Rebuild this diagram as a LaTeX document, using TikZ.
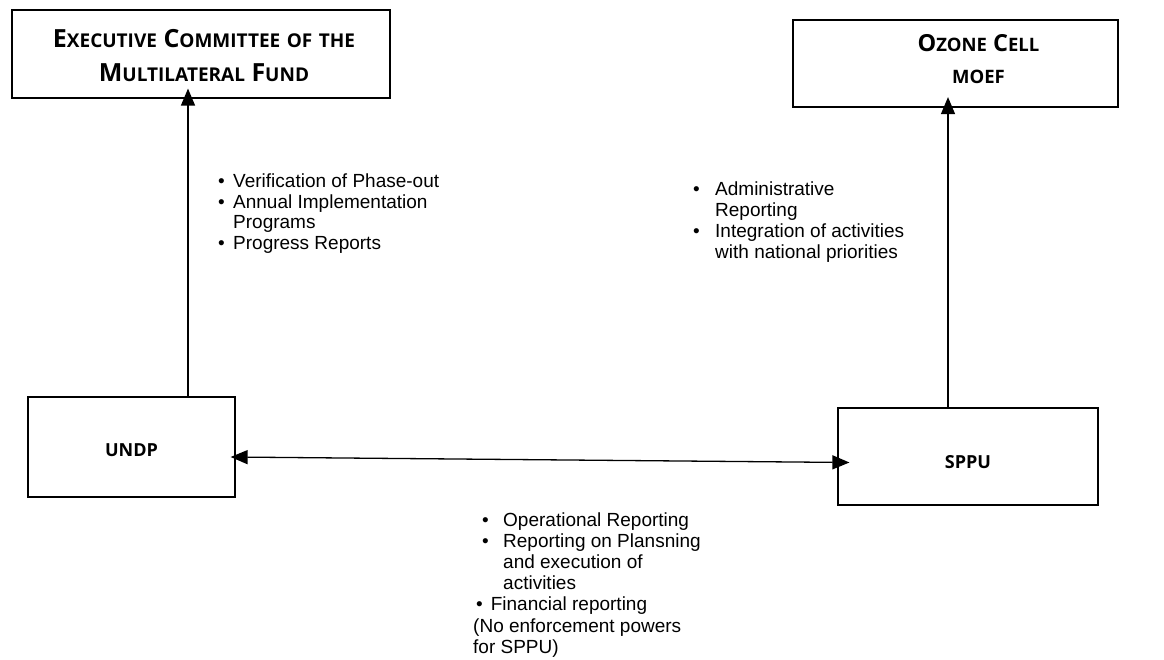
\documentclass[tikz,border=0pt]{standalone}
\usepackage{fontspec}
\setmainfont{Liberation Sans}
\newfontfamily\headfont{Open Sans}[BoldFont={* Bold}]
\usetikzlibrary{arrows.meta}
\newcommand\scA[2]{{\fontsize{25}{20}\selectfont #1}{\fontsize{19}{20}\selectfont #2}}
\newcommand\scB[2]{{\fontsize{23.5}{20}\selectfont #1}{\fontsize{18.5}{20}\selectfont #2}}
\tikzset{
  boxnode/.style={draw, line width=1.2pt, inner sep=0pt, align=center,
    font=\headfont\bfseries},
  arr/.style={line width=1.3pt, -{Triangle[length=17pt,width=14pt]}},
  biarr/.style={line width=1.3pt, {Triangle[length=17pt,width=14pt]}-{Triangle[length=17pt,width=14pt]}},
  listnode/.style={inner sep=0pt, anchor=base west,
    font=\fontsize{19}{20.5}\selectfont}
}
\begin{document}
\begin{tikzpicture}[x=1pt,y=1pt]
\useasboundingbox[fill=white] (0,0) rectangle (1164,-660);

\node[boxnode, minimum width=378, minimum height=88,
      font=\headfont\bfseries\fontsize{25}{20}\selectfont] (exec) at (201,-54)
  {\hspace*{6pt}\raisebox{-4.4pt}[\height][\depth]{\begin{tabular}{@{}c@{}}\scA{E}{XECUTIVE} \scA{C}{OMMITTEE} \scA{}{OF} \scA{}{THE}\\[11pt]
   \scA{M}{ULTILATERAL} \scA{F}{UND}\end{tabular}}};

\node[boxnode, minimum width=325, minimum height=87,
      font=\headfont\bfseries\fontsize{23.5}{20}\selectfont] (ozone) at (955.5,-63.5)
  {\hspace*{46pt}\raisebox{1.4pt}[\height][\depth]{\begin{tabular}{@{}c@{}}\scB{O}{ZONE} \scB{C}{ELL}\\[11.5pt]
   \scB{}{MOEF}\end{tabular}}};

\node[boxnode, minimum width=207, minimum height=100, font=\headfont\bfseries\fontsize{18}{20}\selectfont] (undp) at (131.5,-447) {\raisebox{-3pt}[\height][\depth]{UNDP}};

\node[boxnode, minimum width=260, minimum height=97, font=\headfont\bfseries\fontsize{18}{20}\selectfont] (sppu) at (968,-456.5) {\raisebox{-6pt}[\height][\depth]{SPPU}};

\draw[arr] ([xshift=56.5pt]undp.north) -- ([xshift=-13pt,yshift=10pt]exec.south);
\draw[arr] ([xshift=-20pt]sppu.north) -- ([xshift=-7.5pt,yshift=10.5pt]ozone.south);
\draw[biarr] ([xshift=-5pt,yshift=-10pt]undp.east) -- ([xshift=12pt,yshift=-6pt]sppu.west);

\node[listnode] (l1) at (218,-188)
  {\begin{tabular}[t]{@{}p{15pt}@{}l@{}}
   \textbullet & Verification of Phase-out\\
   \textbullet & Annual Implementation\\
   & Programs\\
   \textbullet & Progress Reports
   \end{tabular}};

\node[listnode] (l2) at (693,-196)
  {\begin{tabular}[t]{@{}p{22pt}@{}l@{}}
   \textbullet & Administrative\\[0.5pt]
   & Reporting\\[0.5pt]
   \textbullet & Integration of activities\\[0.5pt]
   & with national priorities
   \end{tabular}};

\node[listnode] (l3) at (473,-526)
  {\begin{tabular}[t]{@{\hspace{9pt}}p{21pt}@{}l@{}}
   \textbullet & Operational Reporting\\[0.7pt]
   \textbullet & Reporting on Plansning\\[0.7pt]
   & and execution of\\[0.7pt]
   & activities\\[0.7pt]
   \multicolumn{2}{@{\hspace{3pt}}l@{}}{\textbullet\hspace{8pt}Financial reporting}\\[0.7pt]
   \multicolumn{2}{@{}l@{}}{(No enforcement powers}\\[0.7pt]
   \multicolumn{2}{@{}l@{}}{for SPPU)}
   \end{tabular}};
\end{tikzpicture}
\end{document}
